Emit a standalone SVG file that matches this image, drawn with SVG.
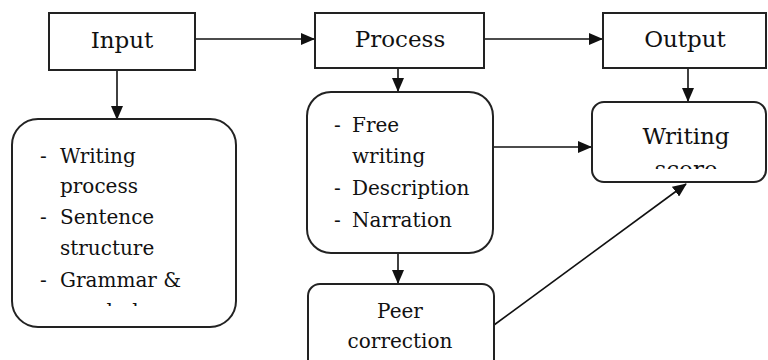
<svg xmlns="http://www.w3.org/2000/svg" width="768" height="360" viewBox="0 0 768 360">
<style>
.box{fill:#fff;stroke:#222;stroke-width:2}
.t{font-family:"DejaVu Serif",serif;font-size:20px;fill:#111}
.h{font-family:"DejaVu Serif",serif;font-size:23px;fill:#111}
.c{stroke:#111;stroke-width:1.6;fill:none;marker-end:url(#ah)}
</style>
<defs>
<marker id="ah" viewBox="0 0 14 12" refX="13" refY="6" markerWidth="14" markerHeight="12" markerUnits="userSpaceOnUse" orient="auto">
<path d="M0,0 L14,6 L0,12 Z" fill="#111"/>
</marker>
<clipPath id="clipIn"><rect x="0" y="0" width="768" height="306"/></clipPath>
<clipPath id="clipWs"><rect x="0" y="0" width="768" height="169"/></clipPath>
</defs>
<rect width="768" height="360" fill="#fff"/>
<g id="connectors">
<line class="c" x1="195" y1="39" x2="314" y2="39"/>
<line class="c" x1="484" y1="39" x2="602" y2="39"/>
<line class="c" x1="117" y1="70" x2="117" y2="119"/>
<line class="c" x1="398" y1="68" x2="398" y2="91"/>
<line class="c" x1="688" y1="68" x2="688" y2="101"/>
<line class="c" x1="493" y1="147" x2="591" y2="147"/>
<line class="c" x1="398" y1="253" x2="398" y2="283"/>
<line class="c" x1="494" y1="325" x2="686" y2="184"/>
</g>
<g id="input">
<rect class="box" x="49" y="13" width="146" height="57"/>
<text class="h" x="122" y="48" text-anchor="middle">Input</text>
</g>
<g id="process">
<rect class="box" x="315" y="13" width="169" height="55"/>
<text class="h" x="400" y="47" text-anchor="middle">Process</text>
</g>
<g id="output">
<rect class="box" x="603" y="13" width="163" height="55"/>
<text class="h" x="685" y="47" text-anchor="middle">Output</text>
</g>
<g id="input-topics">
<rect class="box" x="12" y="119" width="224" height="208" rx="26"/>
<g class="t">
<text x="40" y="163">-</text><text x="60" y="163">Writing</text>
<text x="60" y="193">process</text>
<text x="40" y="224">-</text><text x="60" y="224">Sentence</text>
<text x="60" y="255">structure</text>
<text x="40" y="287">-</text><text x="60" y="287">Grammar &amp;</text>
<text x="60" y="318" clip-path="url(#clipIn)">vocabulary</text>
</g>
</g>
<g id="process-activities">
<rect class="box" x="307" y="92" width="186" height="161" rx="24"/>
<g class="t">
<text x="334" y="132">-</text><text x="352" y="132">Free</text>
<text x="352" y="163">writing</text>
<text x="334" y="195">-</text><text x="352" y="195">Description</text>
<text x="334" y="227">-</text><text x="352" y="227">Narration</text>
</g>
</g>
<g id="peer-correction">
<rect class="box" x="308" y="284" width="186" height="90" rx="12"/>
<text class="t" x="400" y="318" text-anchor="middle">Peer</text>
<text class="t" x="400" y="348" text-anchor="middle">correction</text>
</g>
<g id="writing-score">
<rect class="box" x="592" y="102" width="174" height="80" rx="12"/>
<text class="h" x="686" y="144" text-anchor="middle">Writing</text>
<text class="h" x="686" y="177" text-anchor="middle" clip-path="url(#clipWs)">score</text>
</g>
</svg>
